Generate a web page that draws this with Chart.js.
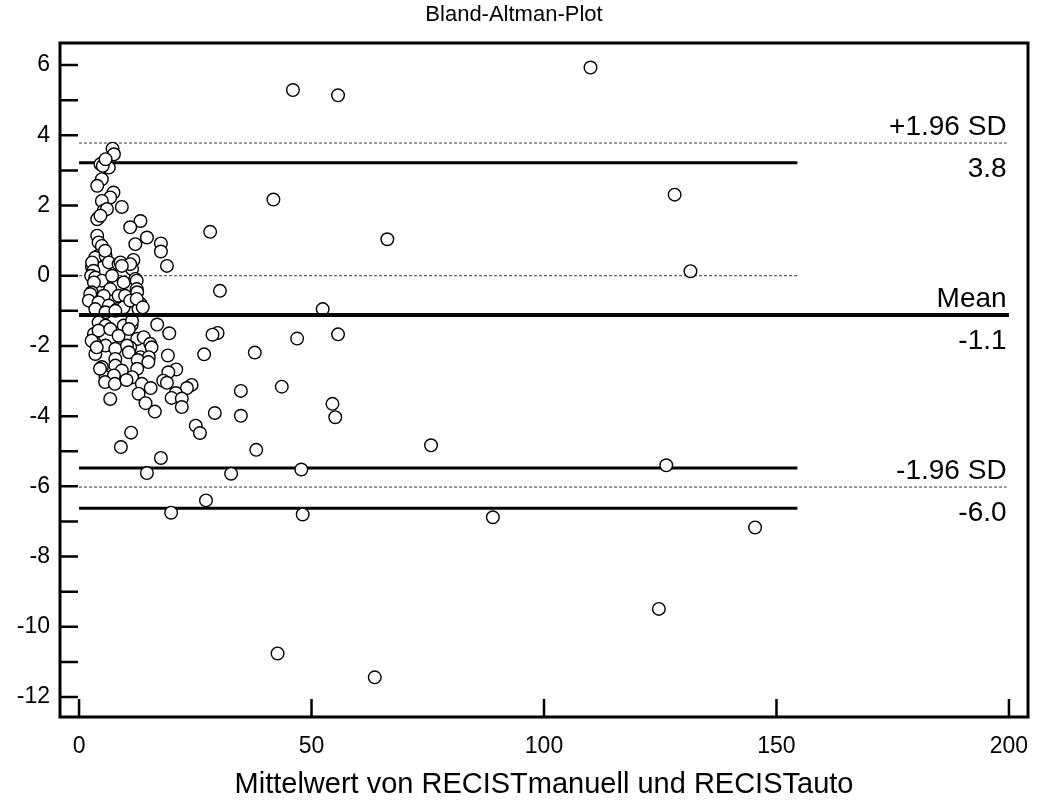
<!DOCTYPE html>
<html lang="de">
  <head>
    <meta charset="UTF-8" />
    <title>Bland-Altman-Plot</title>
    <style>
      html, body { margin: 0; padding: 0; background: #fff; }
      #wrap { width: 1039px; height: 802px; position: relative; }
    </style>
  </head>
  <body>
    <div id="wrap"><canvas id="ba-chart"></canvas></div>

    <script src="https://cdn.jsdelivr.net/npm/chart.js"></script>
    <script>
      // Mittelwert beider Methoden (x) und Differenz (y)
      const avgValues = [
        7.2, 7.5, 4.6, 5.7, 6.4, 5.1, 5.7, 4.9, 3.9, 7.4, 6.7, 4.9, 9.2, 5.3, 6.0, 4.2, 3.9, 4.6,
        13.2, 11.0, 14.6, 12.1, 3.9, 4.2, 4.9, 4.2, 3.5, 5.7, 5.6, 17.6, 17.6, 18.9, 11.7,
        6.4, 8.5, 11.4, 2.8, 2.8, 8.9, 11.0, 9.2, 3.1, 2.6, 3.5, 4.9, 7.1, 9.6, 12.1, 3.2,
        12.4, 12.4, 6.7, 2.7, 2.4, 5.3, 8.5, 9.9, 12.5,
        2.1, 4.2, 6.4, 8.2, 9.6, 11.0, 13.2, 3.5, 5.7, 7.8, 12.8, 12.4, 13.7, 16.8, 11.3,
        4.2, 5.7, 9.6, 11.4, 30.3, 52.4,
        3.2, 4.2, 6.7, 8.5, 10.7, 12.5, 13.9, 15.3, 15.6, 11.0, 3.5, 5.7, 7.8, 10.3, 19.4,
        29.8, 28.7, 46.9, 55.7, 3.5, 7.8, 10.7, 13.2, 15.0, 12.6, 14.9, 19.1, 26.9, 37.8, 2.7, 3.8,
        4.9, 7.8, 9.2, 12.5, 20.9, 19.2, 5.7, 7.5, 11.4, 13.5, 18.1, 18.9, 24.2, 23.2, 15.4,
        12.8, 20.8, 5.6, 7.7, 10.2, 6.7, 14.3, 16.3, 19.9, 22.1, 22.1, 34.8, 43.6, 4.5,
        29.2, 34.8, 54.5, 55.1, 25.1, 26.0, 11.2, 9.0, 17.6, 14.6, 38.1, 75.7, 32.7, 47.8,
        126.3, 27.3, 48.1, 89.0, 19.8, 124.7, 42.7, 63.6, 145.4,
        46.0, 55.7, 110.0, 41.8, 28.2, 66.3, 128.1, 131.5
      ];
      const diffValues = [
        3.62, 3.46, 3.18, 3.22, 3.08, 3.13, 3.32, 2.75, 2.56, 2.37, 2.23, 2.13, 1.96, 1.85, 1.9, 1.66, 1.61, 1.71,
        1.56, 1.38, 1.09, 0.9, 1.14, 0.95, 0.85, 0.57, 0.52, 0.57, 0.71, 0.92, 0.69, 0.28, 0.45,
        0.38, 0.33, 0.19, 0.24, 0.38, 0.38, 0.33, 0.28, 0.14, 0.0, -0.05, -0.14, 0.0, -0.19, -0.09, -0.19,
        -0.14, -0.38, -0.38, -0.47, -0.52, -0.57, -0.57, -0.57, -0.47,
        -0.71, -0.76, -0.85, -0.95, -0.9, -0.71, -0.8, -0.95, -1.04, -1.0, -0.95, -0.66, -0.9, -1.39, -1.4,
        -1.33, -1.42, -1.42, -1.28, -0.43, -0.95,
        -1.66, -1.56, -1.52, -1.71, -1.52, -1.8, -1.75, -1.94, -2.04, -2.04, -1.94, -1.99, -2.08, -1.99, -1.64,
        -1.63, -1.68, -1.79, -1.67, -2.23, -2.37, -2.18, -2.32, -2.32, -2.4, -2.46, -2.27, -2.24, -2.19, -1.85, -2.04,
        -2.6, -2.56, -2.7, -2.65, -2.67, -2.75, -2.89, -2.84, -2.89, -3.08, -2.99, -3.05, -3.11, -3.2, -3.2,
        -3.36, -3.34, -3.03, -3.08, -2.97, -3.51, -3.63, -3.87, -3.48, -3.5, -3.74, -3.28, -3.16, -2.65,
        -3.91, -3.99, -3.65, -4.03, -4.27, -4.48, -4.47, -4.88, -5.19, -5.62, -4.96, -4.83, -5.64, -5.52,
        -5.4, -6.4, -6.8, -6.88, -6.75, -9.49, -10.76, -11.44, -7.17,
        5.29, 5.14, 5.93, 2.17, 1.25, 1.04, 2.31, 0.13
      ];

      // Referenzlinien
      const meanDiff = -1.12;
      const upperLoA = 3.78;
      const lowerLoA = -6.02;
      const ciValues = [3.22, -5.48, -6.62];
      const lineStartX = 0;
      const shortLineEndX = 154.5;
      const sdLineEndX = 199.5;
      const meanLineEndX = 200;

      const FONT = "'Liberation Sans', Arial, sans-serif";

      const points = avgValues.map((x, i) => ({ x: x, y: diffValues[i] }));
      const hLine = (y, x2) => [{ x: lineStartX, y: y }, { x: x2, y: y }];

      const lineSet = (y, x2, width, dash, color, order) => ({
        data: hLine(y, x2),
        showLine: true,
        pointRadius: 0,
        borderColor: color,
        borderWidth: width,
        borderDash: dash,
        order: order,
      });

      const datasets = [
        {
          label: "Differenz",
          data: points,
          pointStyle: "circle",
          pointRadius: 6.3,
          pointBorderWidth: 1.4,
          pointBorderColor: "#000",
          pointBackgroundColor: "#fff",
          order: 1,
        },
        lineSet(meanDiff, meanLineEndX, 4, [], "#000", 0),
        lineSet(0, shortLineEndX, 1, [3, 2], "#333", 2),
        lineSet(upperLoA, sdLineEndX, 1, [3, 2], "#333", 2),
        lineSet(lowerLoA, sdLineEndX, 1, [3, 2], "#333", 2),
      ];
      ciValues.forEach((v) => datasets.push(lineSet(v, shortLineEndX, 3, [], "#000", 2)));

      // Rahmen und nach innen zeigende Ticks
      const framePlugin = {
        id: "frame",
        afterDraw(chart) {
          const { ctx, chartArea: a, scales } = chart;
          ctx.save();
          ctx.strokeStyle = "#000";
          ctx.lineWidth = 2.5;
          ctx.beginPath();
          scales.y.ticks.forEach((t) => {
            const py = scales.y.getPixelForValue(t.value);
            ctx.moveTo(a.left, py);
            ctx.lineTo(a.left + 18, py);
          });
          scales.x.ticks.forEach((t) => {
            const px = scales.x.getPixelForValue(t.value);
            ctx.moveTo(px, a.bottom);
            ctx.lineTo(px, a.bottom - 18);
          });
          ctx.stroke();
          ctx.lineWidth = 3;
          ctx.strokeRect(a.left, a.top, a.right - a.left, a.bottom - a.top);
          ctx.restore();
        },
      };

      // Beschriftung der Linien rechts
      const limitLabels = [
        [upperLoA, "+1.96 SD"],
        [meanDiff, "Mean"],
        [lowerLoA, "-1.96 SD"],
      ];
      const labelPlugin = {
        id: "limitLabels",
        afterDatasetsDraw(chart) {
          const { ctx, scales } = chart;
          const px = scales.x.getPixelForValue(sdLineEndX);
          ctx.save();
          ctx.fillStyle = "#000";
          ctx.font = "28px " + FONT;
          ctx.textAlign = "right";
          ctx.textBaseline = "alphabetic";
          limitLabels.forEach(([v, name]) => {
            const py = scales.y.getPixelForValue(v);
            ctx.fillText(name, px, py - 8);
            ctx.fillText(v.toFixed(1), px, py + 34);
          });
          ctx.restore();
        },
      };

      const chart = new Chart(document.getElementById("ba-chart"), {
        type: "scatter",
        data: { datasets: datasets },
        options: {
          responsive: true,
          maintainAspectRatio: false,
          animation: false,
          layout: { padding: { top: 0, right: 11, bottom: 0, left: 0 } },
          plugins: {
            legend: { display: false },
            tooltip: { enabled: false },
            title: {
              display: true,
              text: "Bland-Altman-Plot",
              color: "#000",
              font: { family: FONT, size: 22, weight: "normal", lineHeight: 1.2 },
              padding: { top: 2, bottom: 14.6 },
            },
          },
          scales: {
            x: {
              type: "linear",
              min: -4.1,
              max: 204.1,
              grid: { display: false, drawTicks: false },
              border: { display: false },
              ticks: {
                stepSize: 50,
                includeBounds: false,
                color: "#000",
                padding: 16,
                font: { family: FONT, size: 23 },
              },
              title: {
                display: true,
                text: "Mittelwert von RECISTmanuell und RECISTauto",
                color: "#000",
                font: { family: FONT, size: 29, lineHeight: 1.2 },
                padding: { top: 0, bottom: 0 },
              },
              afterFit(scale) {
                scale.height = 85;
                scale.paddingLeft = 0;
                scale.paddingRight = 0;
              },
            },
            y: {
              type: "linear",
              min: -12.57,
              max: 6.63,
              grid: { display: false, drawTicks: false },
              border: { display: false },
              ticks: {
                stepSize: 1,
                includeBounds: false,
                autoSkip: false,
                color: "#000",
                padding: 10,
                font: { family: FONT, size: 23 },
                callback: (v) => (v % 2 === 0 ? v : ""),
              },
              afterFit(scale) {
                scale.width = 60;
              },
            },
          },
        },
        plugins: [framePlugin, labelPlugin],
      });
    </script>
  </body>
</html>
